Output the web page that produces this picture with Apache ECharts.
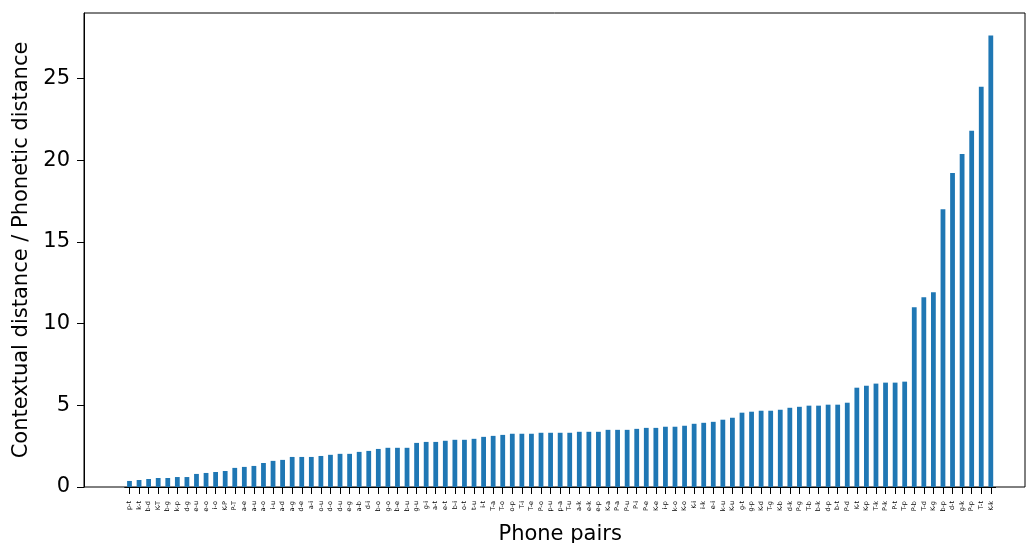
<!DOCTYPE html>
<html>
<head>
<meta charset="utf-8">
<script src="https://cdn.jsdelivr.net/npm/echarts@6/dist/echarts.min.js"></script>
<style>
html,body{margin:0;padding:0;background:#fff;}
#chart{width:1026px;height:543px;}
</style>
</head>
<body>
<div id="chart"></div>
<script>
var pairs = ["p-t","k-t","b-d","K-T","b-g","k-p","d-g","e-u","e-o","i-o","K-P","P-T","a-e","a-u","a-o","i-u","a-d","a-g",
  "d-e","a-i","o-u","d-o","d-u","e-g","a-b","d-i","b-o","g-o","b-e","b-u","g-u","g-i","a-t","e-t","b-i","o-t",
  "t-u","i-t","T-a","T-o","o-p","T-i","T-e","P-o","p-u","p-a","T-u","a-k","e-k","e-p","K-a","P-a","P-u",
  "P-i","P-e","K-e","i-p","k-o","K-o","K-i","i-k","e-i","k-u","K-u","g-t","g-p","K-d","T-g","K-b","d-k","P-g",
  "T-b","b-k","d-p","b-t","P-d","K-t","K-p","T-k","P-k","P-t","T-p","P-b","T-d","K-g","b-p","d-t","g-k","P-p","T-t","K-k"];
var ratios = [0.37,0.43,0.49,0.55,0.55,0.61,0.61,0.80,0.86,0.92,0.98,1.17,1.23,1.29,1.47,1.60,1.66,1.84,1.84,1.84,1.90,1.97,
  2.03,2.03,2.15,2.21,2.33,2.40,2.40,2.40,2.70,2.76,2.76,2.83,2.89,2.89,2.95,3.07,3.13,3.19,3.26,3.26,3.26,3.32,
  3.32,3.32,3.32,3.38,3.38,3.38,3.50,3.50,3.50,3.56,3.62,3.62,3.69,3.69,3.75,3.87,3.93,3.99,4.12,4.24,4.55,4.61,
  4.67,4.67,4.73,4.85,4.91,4.98,4.98,5.04,5.04,5.16,6.08,6.20,6.33,6.39,6.39,6.45,
  11.0,11.61,11.92,17.01,19.23,20.39,21.81,24.51,27.64];
var yTicks = [0,5,10,15,20,25];
var xName = "Phone pairs";
var yName = "Contextual distance / Phonetic distance";

var yMax = 29.02;
var font = "DejaVu Sans";
var chart = echarts.init(document.getElementById('chart'), null, {renderer:'canvas'});
chart.setOption({
  animation:false,
  backgroundColor:'#fff',
  grid:[
    {left:84, right:1, top:13, bottom:56, show:true, borderColor:'#000', borderWidth:1, backgroundColor:'transparent', outerBoundsMode:'none', containLabel:false},
    {left:124.7, width:870.9, top:13, bottom:56, outerBoundsMode:'none', containLabel:false}
  ],
  xAxis:[
    {gridIndex:0, type:'value', min:0, max:1, show:false},
    {gridIndex:1, type:'category', data:pairs,
      axisLine:{show:true, lineStyle:{color:'#000', width:1}},
      axisTick:{show:true, alignWithLabel:true, length:7, lineStyle:{color:'#000'}},
      axisLabel:{interval:0, rotate:90, fontSize:6.5, margin:14, color:'#000', fontFamily:font},
      name:xName, nameLocation:'middle', nameGap:37,
      nameTextStyle:{fontSize:21, color:'#000', fontFamily:font}
    }
  ],
  yAxis:[
    {gridIndex:0, type:'value', min:0, max:yMax, interval:5,
      axisLine:{show:true, lineStyle:{color:'#000', width:1}},
      axisTick:{show:true, length:7, lineStyle:{color:'#000'}},
      axisLabel:{margin:14, fontSize:21, color:'#000', fontFamily:font, showMaxLabel:false,
        formatter:function(v){ return yTicks.indexOf(v) >= 0 ? String(v) : ''; }},
      splitLine:{show:false},
      name:yName, nameLocation:'middle', nameGap:47, nameRotate:90,
      nameTextStyle:{fontSize:21, color:'#000', fontFamily:font}
    },
    {gridIndex:1, type:'value', min:0, max:yMax, show:false, splitLine:{show:false}}
  ],
  series:[{
    type:'bar', xAxisIndex:1, yAxisIndex:1, data:ratios, barWidth:'50%',
    itemStyle:{color:'#1f77b4'}
  }]
});
</script>
</body>
</html>
